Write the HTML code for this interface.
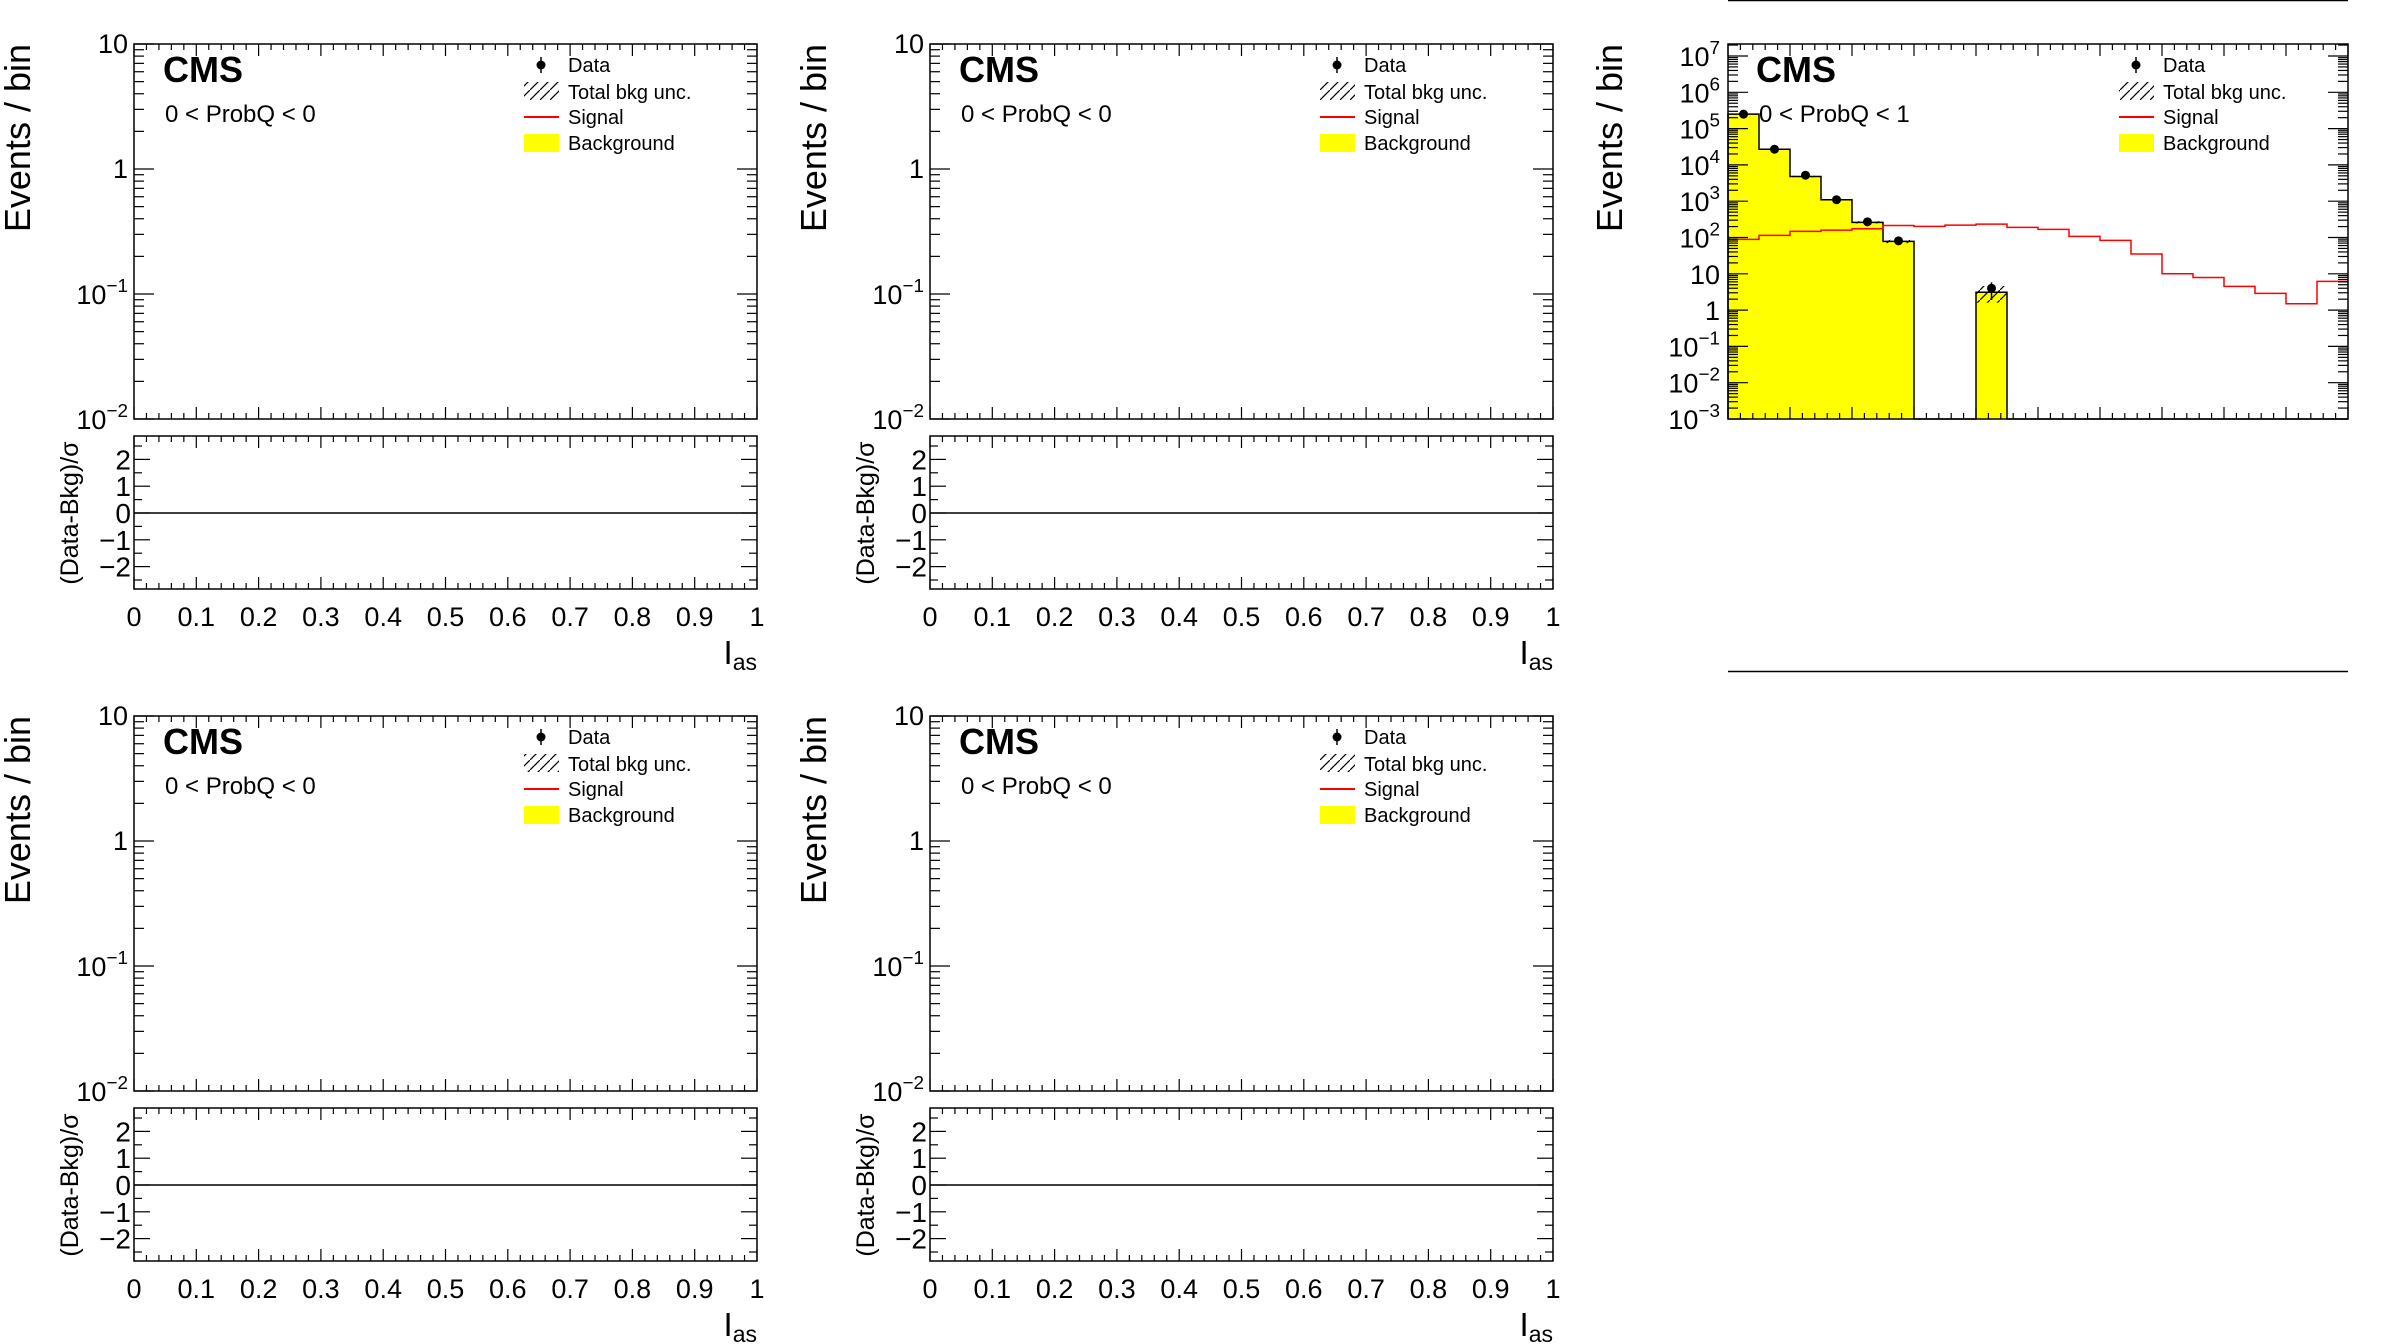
<!DOCTYPE html>
<html><head><meta charset="utf-8"><style>
html,body{margin:0;padding:0;background:#fff}
svg{display:block;font-family:"Liberation Sans",sans-serif}
</style></head><body>
<svg id="c" width="2388" height="1344" viewBox="0 0 2388 1344" xmlns="http://www.w3.org/2000/svg">
<defs>
<pattern id="hatch" patternUnits="userSpaceOnUse" width="10" height="10">
<path d="M-2,12 L12,-2" stroke="#000" stroke-width="1.2"/>
</pattern>
</defs>
</svg>
<script>
// ===== Data for the populated panel (Ias, 0<ProbQ<1), 20 bins 0..1 =====
const binEdgesLo = [0,0.05,0.1,0.15,0.2,0.25,0.3,0.35,0.4,0.45,0.5,0.55,0.6,0.65,0.7,0.75,0.8,0.85,0.9,0.95];
const bkgValues = [2.5e5,2.7e4,4.8e3,1.1e3,262,78,0,0,3.1,0,0,0,0,0,0,0,0,0,0,0];
const bkgUncLo = [2.4e5,2.6e4,4.6e3,1.05e3,245,70,0,0,1.6,0,0,0,0,0,0,0,0,0,0,0];
const bkgUncHi = [2.6e5,2.8e4,5.0e3,1.15e3,280,86,0,0,4.6,0,0,0,0,0,0,0,0,0,0,0];
const signalValues = [89,114,147,160,174,214,203,219,234,190,167,107,83,35,10,7.9,4.5,2.9,1.5,6.2];
const dataValues = [2.5e5,2.7e4,5.2e3,1.1e3,270,81,0,0,4.0,0,0,0,0,0,0,0,0,0,0,0];
const dataErrLo = [2.49e5,2.68e4,5.1e3,1.07e3,254,72,0,0,1.9,0,0,0,0,0,0,0,0,0,0,0];
const dataErrHi = [2.51e5,2.72e4,5.3e3,1.13e3,287,90,0,0,5.8,0,0,0,0,0,0,0,0,0,0,0];
const xTickLabels = ["0","0.1","0.2","0.3","0.4","0.5","0.6","0.7","0.8","0.9","1"];
const ratioTickLabels = ["2","1","0","\u22121","\u22122"];
const ratioTickValues = [2,1,0,-1,-2];

const NS="http://www.w3.org/2000/svg";
const svg=document.getElementById('c');
function mk(tag,attrs,parent){const e=document.createElementNS(NS,tag);for(const k in attrs)e.setAttribute(k,attrs[k]);(parent||svg).appendChild(e);return e;}
function line(g,x1,y1,x2,y2,col,w){return mk('line',{x1,y1,x2,y2,stroke:col||'#000','stroke-width':w||1.5},g);}
function txt(g,x,y,s,size,anchor,extra){const t=mk('text',{x,y,'font-size':size,'text-anchor':anchor||'start'},g);if(extra)for(const k in extra)t.setAttribute(k,extra[k]);t.textContent=s;return t;}
function pow10(g,x,y,exp,size){
  const t=mk('text',{x,y,'font-size':size,'text-anchor':'end'},g);
  const a=document.createElementNS(NS,'tspan');a.textContent='10';t.appendChild(a);
  const b=document.createElementNS(NS,'tspan');b.setAttribute('dy',-12);b.setAttribute('font-size',size*0.7);b.textContent=exp;t.appendChild(b);
  return t;
}

function xTicks(g,X,yb,yt){
  for(let i=0;i<=50;i++){const v=i/50;const x=X(v);const major=i%5===0;const L=major?12:6;
    line(g,x,yb,x,yb-L,'#000',1.2);line(g,x,yt,x,yt+L,'#000',1.2);}
}
function logTicks(g,x0,x1,Y,lmin,lmax,majorLen,minorLen){
  for(let d=Math.floor(lmin);d<=Math.ceil(lmax);d++){
    for(let m=1;m<10;m++){const lv=d+Math.log10(m);if(lv<lmin-1e-9||lv>lmax+1e-9)continue;
      const y=Y(Math.pow(10,lv));const L=m===1?majorLen:minorLen;
      line(g,x0,y,x0+L,y,'#000',1.2);line(g,x1,y,x1-L,y,'#000',1.2);}
  }
}
function legend(g,ox,oy){
  const lg=mk('g',{},g);
  
  
  const sx=ox+541, tx=ox+568;
  const e1=mk('g',{},lg);
  
  
  mk('circle',{cx:sx,cy:oy+65,r:4.5,fill:'#000'},e1);line(e1,sx,oy+57,sx,oy+73,'#000',1.5);
  txt(e1,tx,oy+72,'Data',20);
  const e2=mk('g',{},lg);
  
  
  mk('rect',{x:ox+524,y:oy+82,width:35,height:18,fill:'url(#hatch)'},e2);
  txt(e2,tx,oy+99,'Total bkg unc.',20);
  const e3=mk('g',{},lg);
  
  
  line(e3,ox+524,oy+117,ox+559,oy+117,'#f00',2);
  txt(e3,tx,oy+124,'Signal',20);
  const e4=mk('g',{},lg);
  
  
  mk('rect',{x:ox+524,y:oy+134,width:35,height:18,fill:'#ff0'},e4);
  txt(e4,tx,oy+150,'Background',20);
}

function emptyPanel(ox,oy,idx){
  const g=mk('g',{});
  
  
  const L=ox+134,R=ox+757,T=oy+44,B=oy+419;
  const X=v=>L+(R-L)*v;
  const Y=v=>B-(B-T)*(Math.log10(v)+2)/3;
  const fr=mk('rect',{x:L,y:T,width:R-L,height:B-T,fill:'none',stroke:'#000','stroke-width':1.5},g);
  
  
  xTicks(g,X,B,T);
  logTicks(g,L,R,Y,-2,1,20,10);
  txt(g,ox+128,oy+53,'10',27,'end');
  txt(g,ox+128,oy+178,'1',27,'end');
  pow10(g,ox+128,oy+304,'\u22121',27);
  pow10(g,ox+128,oy+429,'\u22122',27);
  const yt=txt(g,0,0,'Events / bin',36,'end',{transform:`translate(${ox+30},${oy+44}) rotate(-90)`});
  
  
  txt(g,ox+163,oy+82,'CMS',36,'start',{'font-weight':'bold'});
  txt(g,ox+165,oy+122,'0 < ProbQ < 0',24);
  legend(g,ox,oy);
  const rT=oy+436,rB=oy+589;
  const RY=v=>oy+513-v*26.8;
  const rf=mk('rect',{x:L,y:rT,width:R-L,height:rB-rT,fill:'none',stroke:'#000','stroke-width':1.5},g);
  
  
  xTicks(g,X,rB,rT);
  for(let v=-2.5;v<=2.5;v+=0.5){const y=RY(v);const Lt=Number.isInteger(v)?16:8;line(g,L,y,L+Lt,y,'#000',1.2);line(g,R,y,R-Lt,y,'#000',1.2);}
  ratioTickValues.forEach((v,i)=>txt(g,ox+131,RY(v)+10,ratioTickLabels[i],28,'end'));
  line(g,L,RY(0),R,RY(0),'#000',1.5);
  const rt=txt(g,0,0,'(Data-Bkg)/\u03c3',25,'middle',{transform:`translate(${ox+78},${oy+513}) rotate(-90)`});
  
  
  xTickLabels.forEach((s,i)=>txt(g,X(i/10),oy+626,s,27,'middle'));
  const xl=mk('text',{x:R,y:oy+664,'font-size':33,'text-anchor':'end'},g);
  
  
  const a=document.createElementNS(NS,'tspan');a.textContent='I';xl.appendChild(a);
  const b=document.createElementNS(NS,'tspan');b.setAttribute('font-size',23);b.setAttribute('dy',6);b.textContent='as';xl.appendChild(b);
}
emptyPanel(0,0,1);
emptyPanel(796,0,2);
emptyPanel(0,672,4);
emptyPanel(796,672,5);

(function(){
  const g=mk('g',{});
  
  
  const L=1728,R=2348,T=44,B=419;
  const dec=36.3, lmin=-3;
  const X=v=>L+(R-L)*v;
  const Y=v=>B-(Math.log10(v)-lmin)*dec;
  const lmax=lmin+(B-T)/dec;
  const bw=0.05;
  line(g,L,0.5,R,0.5,'#000',1.5);
  line(g,L,671.5,R,671.5,'#000',1.5);
  const bg=mk('g',{},g);
  
  
  binEdgesLo.forEach((x0,i)=>{const v=bkgValues[i];
    if(v>0){const r=mk('rect',{x:X(x0),y:Y(v),width:X(x0+bw)-X(x0),height:B-Y(v),fill:'#ff0'},bg);
      
      }
  });
  let p='M'+X(0)+','+B;
  binEdgesLo.forEach((x0,i)=>{const v=bkgValues[i];const y=v>0?Y(v):B;p+=' L'+X(x0)+','+y+' L'+X(x0+bw)+','+y;});
  p+=' L'+X(1)+','+B;
  mk('path',{d:p,fill:'none',stroke:'#000','stroke-width':1.5},bg);
  binEdgesLo.forEach((x0,i)=>{if(bkgValues[i]>0){const r=mk('rect',{x:X(x0),y:Y(bkgUncHi[i]),width:X(x0+bw)-X(x0),height:Y(bkgUncLo[i])-Y(bkgUncHi[i]),fill:'url(#hatch)'},g);
    
    }});
  let sp='';
  binEdgesLo.forEach((x0,i)=>{const y=Y(signalValues[i]);sp+=(i===0?'M':' L')+X(x0)+','+y+' L'+X(x0+bw)+','+y;});
  const sl=mk('path',{d:sp,fill:'none',stroke:'#f00','stroke-width':1.5},g);
  
  
  binEdgesLo.forEach((x0,i)=>{if(dataValues[i]>0){const cx=X(x0+bw/2);
    const dg=mk('g',{},g);
    
    
    line(dg,cx,Y(dataErrHi[i]),cx,Y(dataErrLo[i]),'#000',1.5);
    mk('circle',{cx,cy:Y(dataValues[i]),r:4.5,fill:'#000'},dg);}});
  const fr=mk('rect',{x:L,y:T,width:R-L,height:B-T,fill:'none',stroke:'#000','stroke-width':1.5},g);
  
  
  xTicks(g,X,B,T);
  logTicks(g,L,R,Y,lmin,lmax,20,10);
  for(let e=7;e>=-3;e--){const y=Y(Math.pow(10,e))+10;
    if(e===1)txt(g,1720,y,'10',27,'end');else if(e===0)txt(g,1720,y,'1',27,'end');
    else pow10(g,1720,y,e<0?'\u2212'+(-e):String(e),27);}
  const yt=txt(g,0,0,'Events / bin',36,'end',{transform:`translate(${1592+30},44) rotate(-90)`});
  
  
  txt(g,1756,82,'CMS',36,'start',{'font-weight':'bold'});
  txt(g,1759,122,'0 < ProbQ < 1',24);
  legend(g,1592+3,0);
})();
</script>
</body></html>
